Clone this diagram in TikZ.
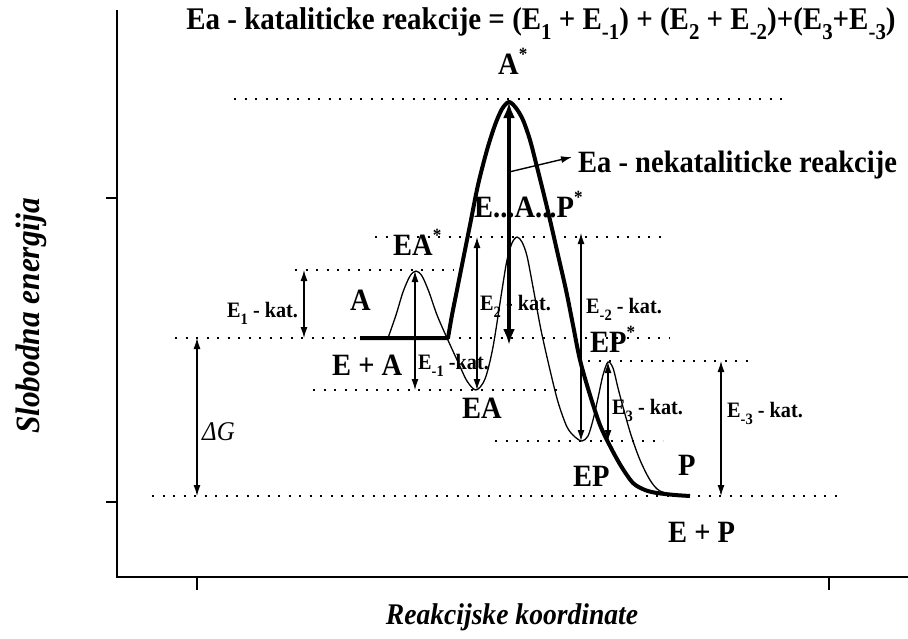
\documentclass[tikz,border=0pt]{standalone}
\usepackage{fontspec}
\setmainfont[FakeStretch=0.92]{Liberation Serif}
\usepackage{graphicx}
\usetikzlibrary{arrows.meta}

\newcommand\lo[1]{\raisebox{-0.33em}{\scalebox{0.72}{#1}}}
\newcommand\st{\raisebox{0.45em}{\scalebox{0.6}{*}}}

\tikzset{
  big/.style={font=\fontsize{31}{33}\selectfont\bfseries, inner sep=0pt, anchor=base west},
  small/.style={font=\fontsize{22}{24}\selectfont\bfseries, inner sep=0pt, anchor=base west},
  lvl/.style={line width=2.2pt, dash pattern=on 2.2pt off 8.3pt},
  thinc/.style={line width=1.3pt},
  thickc/.style={line width=4pt, line join=round},
  dbl/.style={line width=1.2pt, {Latex[length=11pt,width=7pt]}-{Latex[length=11pt,width=7pt]}},
  sgl/.style={line width=1.4pt, -{Latex[length=11pt,width=7pt]}},
  bigdbl/.style={line width=4pt, {Latex[length=16pt,width=12pt]}-{Latex[length=16pt,width=12pt]}},
  axis/.style={line width=2pt},
}

\begin{document}
\begin{tikzpicture}[x=1pt,y=-1pt]
\useasboundingbox (0,0) rectangle (908,638);

% axes
\coordinate (o) at (117,577);
\coordinate (ytop) at (117,10);
\coordinate (xend) at (908,577);
\draw[axis] (ytop) -- (o) -- (xend);
\coordinate (ty1) at (117,198); \coordinate (ty1e) at (106,198);
\coordinate (ty2) at (117,502); \coordinate (ty2e) at (106,502);
\coordinate (tx1) at (197,577); \coordinate (tx1e) at (197,590);
\coordinate (tx2) at (829,577); \coordinate (tx2e) at (829,590);
\draw[line width=1.5pt] (ty1) -- (ty1e) (ty2) -- (ty2e) (tx1) -- (tx1e) (tx2) -- (tx2e);

% energy levels (dotted)
\coordinate (l1a) at (234,99);  \coordinate (l1b) at (790,99);
\coordinate (l2a) at (375,237); \coordinate (l2b) at (668,237);
\coordinate (l3a) at (295,270); \coordinate (l3b) at (453,270);
\coordinate (l4a) at (175,338); \coordinate (l4b) at (670,338);
\coordinate (l5a) at (313,390); \coordinate (l5b) at (560,390);
\coordinate (l6a) at (588,361); \coordinate (l6b) at (748,361);
\coordinate (l7a) at (495,441); \coordinate (l7b) at (663,441);
\coordinate (l8a) at (152,496); \coordinate (l8b) at (838,496);
\foreach \p in {1,...,8} \draw[lvl] (l\p a) -- (l\p b);

% catalysed path (thin)
\draw[thinc] plot[smooth, tension=0.5] coordinates {
 (388,338) (396,315) (403,292) (410,276) (416,271) (422,276) (429,292) (437,315)
 (447,338) (458,362) (467,381) (476,390) (485,379) (493,347) (502,290) (507,260)
 (512,243) (517,237) (522,242) (527,256) (533,287) (541,330) (550,370) (558,402)
 (567,427) (575,437) (582,441) (588,436) (593,420) (598,398) (603,375) (608,362)
 (613,368) (618,388) (623,407) (631,435) (640,460) (650,480) (660,491) (680,496)};

% uncatalysed path (thick)
\draw[thickc] (360,338) -- (448,338) -- plot[smooth, tension=0.5] coordinates {
 (448,338) (452,315) (457,290) (463,260) (470,225) (478,185) (487,150) (495,125)
 (502,109) (509,102) (516,108) (523,120) (530,140) (537,167) (544,195) (550,220)
 (558,255) (566,290) (573,325) (580,360) (590,395) (600,425) (610,446) (621,466)
 (633,483) (645,490) (657,493) (675,495) (690,496)};

% energy arrows
\coordinate (e1t) at (304,270); \coordinate (e1b) at (304,338);
\coordinate (dgt) at (197,338); \coordinate (dgb) at (197,496);
\coordinate (em1t) at (415,271); \coordinate (em1b) at (415,390);
\coordinate (e2t) at (477,237); \coordinate (e2b) at (477,390);
\coordinate (em2t) at (581,233); \coordinate (em2b) at (581,441);
\coordinate (e3t) at (608,362); \coordinate (e3b) at (608,441);
\coordinate (em3t) at (721,361); \coordinate (em3b) at (721,496);
\draw[dbl] (e1t) -- (e1b);
\draw[dbl] (dgt) -- (dgb);
\draw[dbl] (em1t) -- (em1b);
\draw[dbl] (e2t) -- (e2b);
\draw[dbl] (em2t) -- (em2b);
\draw[dbl] (e3t) -- (e3b);
\draw[dbl] (em3t) -- (em3b);

\coordinate (eat) at (509,102); \coordinate (eab) at (509,345);
\draw[bigdbl] (eat) -- (eab);
\coordinate (eamid) at (509,172);

% labels
\node[big, anchor=base, font=\fontsize{31.5}{33}\selectfont\bfseries] (title) at (541,29) {Ea - kataliticke reakcije = (E\lo{1} + E\lo{-1}) + (E\lo{2} + E\lo{-2})+(E\lo{3}+E\lo{-3})};
\node[big] (astar) at (498,74) {A\st};
\node[big] (nekat) at (578,172) {Ea - nekataliticke reakcije};
\coordinate (nekatin) at (572,157);
\draw[sgl] (eamid) -- (nekatin);
\node[big] (eap) at (474,217) {E...A...P\st};
\node[big] (eastar) at (393,255) {EA\st};
\node[big] (a) at (350,310) {A};
\node[big] (ea) at (332,375) {E + A};
\node[big] (eab2) at (462,418) {EA};
\node[big] (epstar) at (590,352) {EP\st};
\node[big] (ep) at (573,486) {EP};
\node[big] (p) at (678,475) {P};
\node[big] (ep2) at (668,542) {E + P};

\node[small] (k1) at (227,317) {E\lo{1} - kat.};
\node[small] (km1) at (418,369) {E\lo{-1} -kat.};
\node[small] (k2) at (480,310) {E\lo{2} - kat.};
\node[small] (km2) at (586,313) {E\lo{-2} - kat.};
\node[small] (k3) at (612,414) {E\lo{3} - kat.};
\node[small] (km3) at (727,417) {E\lo{-3} - kat.};
\node[inner sep=0pt, anchor=base west, font=\fontsize{27}{28}\selectfont\itshape] (dg) at (202,440) {ΔG};

\node[rotate=90, inner sep=0pt, font=\fontsize{34}{36}\selectfont\bfseries\itshape] (ylab) at (31,316) {Slobodna energija};
\node[inner sep=0pt, font=\fontsize{30}{32}\selectfont\bfseries\itshape] (xlab) at (512,617) {Reakcijske koordinate};
\end{tikzpicture}
\end{document}
